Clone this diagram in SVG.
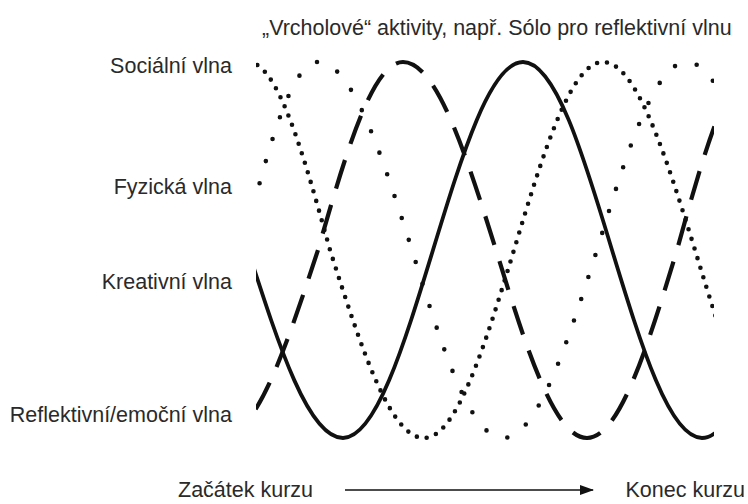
<svg xmlns="http://www.w3.org/2000/svg" width="748" height="504" viewBox="0 0 748 504">
<style>
text{font-family:"Liberation Sans",Arial,sans-serif;font-size:21.5px;fill:#2a2a2a}
.lbl{text-anchor:end}
.w{fill:none;stroke:#111}
.solid{stroke-width:3.8}
.dash{stroke-width:4.2;stroke-dasharray:30 17}
.dense{stroke-width:4.6;stroke-linecap:round;stroke-dasharray:0 10}
.sparse{stroke-width:4.6;stroke-linecap:round;stroke-dasharray:0 23}
</style>
<defs>
<clipPath id="area"><rect x="256" y="40" width="458" height="420"/></clipPath>
<marker id="ah" viewBox="0 0 14 10" refX="13" refY="5" markerWidth="14" markerHeight="10" markerUnits="userSpaceOnUse" orient="auto">
<path d="M0,0 L14,5 L0,10 Z" fill="#111"/>
</marker>
</defs>
<rect width="748" height="504" fill="#fff"/>
<g id="title"><text x="262" y="35">„Vrcholové“ aktivity, např. Sólo pro reflektivní vlnu</text></g>
<g id="socialni"><text class="lbl" x="232" y="73">Sociální vlna</text></g>
<g id="fyzicka"><text class="lbl" x="232" y="194">Fyzická vlna</text></g>
<g id="kreativni"><text class="lbl" x="232" y="289">Kreativní vlna</text></g>
<g id="reflektivni"><text class="lbl" x="232" y="422">Reflektivní/emoční vlna</text></g>
<g id="zacatek"><text x="178" y="497">Začátek kurzu</text></g>
<g id="konec"><text class="lbl" x="745" y="497">Konec kurzu</text></g>
<g id="connectors">
<g clip-path="url(#area)">
<path id="kreativni-vlna" class="w solid" d="M248,250 C279,346.3 308.6,438 343,438 C375.6,438 403.6,346.3 433,250 C462.4,153.7 490.4,62 523,62 C555.2,62 583,153.7 612,250 C641.4,346.3 669.4,438 702,438 C734.6,438 762.6,346.3 792,250"/>
<path id="reflektivni-vlna" class="w dash" d="M221,438 C256.1,438 286.4,346.3 318,250 C345.7,153.7 372.2,62 403,62 C436.7,62 465.7,153.7 496,250 C525.7,346.3 554.1,438 587,438 C619.6,438 647.6,346.3 677,250 C703.7,153.7 729.3,62 759,62"/>
<path id="socialni-vlna" class="w dense" d="M248,62 C277.7,62 303.3,153.7 330,250 C360.7,346.3 390,438 424,438 C456.6,438 484.6,346.3 514,250 C543,153.7 570.8,62 603,62 C636.3,62 665,153.7 695,250 C724.4,346.3 752.4,438 785,438"/>
<path id="fyzicka-vlna" class="w sparse" d="M242,250 C266.8,153.7 290.5,62 318,62 C352,62 381.3,153.7 412,250 C441.7,346.3 470.1,438 503,438 C537,438 566.3,346.3 597,250 C626.4,153.7 654.4,62 687,62 C719.6,62 747.6,153.7 777,250"/>
</g>
<line id="cas" x1="345" y1="490" x2="593" y2="490" stroke="#111" stroke-width="1.4" marker-end="url(#ah)"/>
</g>
</svg>
